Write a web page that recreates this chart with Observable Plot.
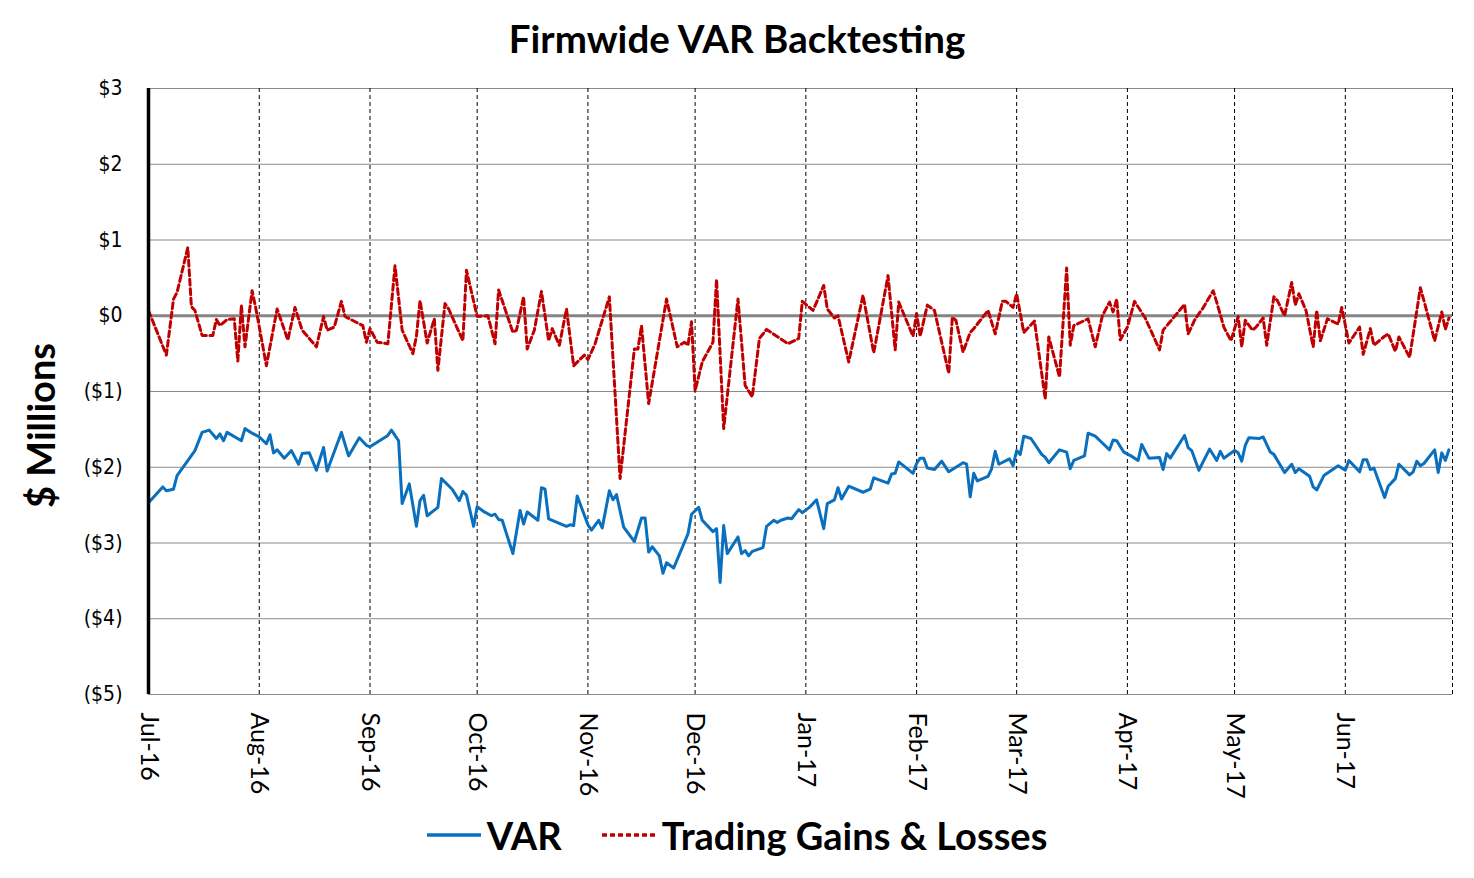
<!DOCTYPE html>
<html>
<head>
<meta charset="utf-8">
<script src="https://cdn.jsdelivr.net/npm/d3@7"></script>
<script src="https://cdn.jsdelivr.net/npm/@observablehq/plot@0.6"></script>
<style>
  html, body { margin: 0; padding: 0; background: #fff; }
  body { width: 1474px; height: 878px; overflow: hidden; font-family: Lato, "Open Sans", sans-serif; }
  #title { height: 70px; line-height: 76px; text-align: center; font-size: 38.5px; font-weight: bold; color: #000; }
  #chart { height: 730px; }
  #legend { height: 70px; display: flex; justify-content: center; align-items: center; font-size: 38px; font-weight: bold; color: #000; padding-left: 0px; }
  #legend .item { display: flex; align-items: center; }
  #legend .item + .item { margin-left: 40px; }
  #legend svg { margin-right: 6px; }
</style>
</head>
<body>
<div id="title">Firmwide VAR Backtesting</div>
<div id="chart"></div>
<div id="legend"></div>
<script>
// ---- data ----
const varDates = ["2016-07-01","2016-07-05","2016-07-06","2016-07-08","2016-07-09","2016-07-11","2016-07-14","2016-07-16","2016-07-18","2016-07-20","2016-07-21","2016-07-22","2016-07-23","2016-07-27","2016-07-28","2016-07-30",
"2016-08-01","2016-08-03","2016-08-04","2016-08-05","2016-08-06","2016-08-08","2016-08-10","2016-08-12","2016-08-13","2016-08-15","2016-08-17","2016-08-19","2016-08-20","2016-08-24","2016-08-26","2016-08-29","2016-08-31",
"2016-09-01","2016-09-03","2016-09-06","2016-09-07","2016-09-09","2016-09-10","2016-09-12","2016-09-14","2016-09-15","2016-09-16","2016-09-17","2016-09-20","2016-09-21","2016-09-24","2016-09-26","2016-09-27","2016-09-28","2016-09-30",
"2016-10-01","2016-10-03","2016-10-05","2016-10-06","2016-10-07","2016-10-08","2016-10-11","2016-10-13","2016-10-14","2016-10-15","2016-10-18","2016-10-19","2016-10-20","2016-10-21","2016-10-24","2016-10-26","2016-10-27","2016-10-28","2016-10-29",
"2016-11-01","2016-11-02","2016-11-04","2016-11-05","2016-11-07","2016-11-08","2016-11-09","2016-11-11","2016-11-14","2016-11-16","2016-11-17","2016-11-18","2016-11-19","2016-11-21","2016-11-22","2016-11-23","2016-11-25","2016-11-29","2016-11-30",
"2016-12-02","2016-12-03","2016-12-06","2016-12-07","2016-12-08","2016-12-09","2016-12-10","2016-12-13","2016-12-14","2016-12-15","2016-12-16","2016-12-17","2016-12-20","2016-12-21","2016-12-23","2016-12-24","2016-12-25","2016-12-27","2016-12-28","2016-12-30","2016-12-31",
"2017-01-02","2017-01-04","2017-01-06","2017-01-07","2017-01-09","2017-01-10","2017-01-11","2017-01-13","2017-01-17","2017-01-19","2017-01-20","2017-01-24","2017-01-25","2017-01-26","2017-01-27","2017-01-31",
"2017-02-01","2017-02-02","2017-02-03","2017-02-04","2017-02-06","2017-02-08","2017-02-10","2017-02-14","2017-02-15","2017-02-16","2017-02-17","2017-02-18","2017-02-21","2017-02-22","2017-02-23","2017-02-24","2017-02-27","2017-02-28",
"2017-03-01","2017-03-02","2017-03-03","2017-03-05","2017-03-06","2017-03-08","2017-03-09","2017-03-10","2017-03-13","2017-03-15","2017-03-16","2017-03-17","2017-03-20","2017-03-21","2017-03-23","2017-03-25","2017-03-27","2017-03-28","2017-03-29","2017-03-31",
"2017-04-02","2017-04-04","2017-04-05","2017-04-07","2017-04-10","2017-04-11","2017-04-12","2017-04-13","2017-04-17","2017-04-18","2017-04-19","2017-04-21","2017-04-24","2017-04-26","2017-04-27","2017-04-28",
"2017-05-01","2017-05-02","2017-05-03","2017-05-04","2017-05-05","2017-05-08","2017-05-09","2017-05-11","2017-05-12","2017-05-15","2017-05-17","2017-05-18","2017-05-19","2017-05-22","2017-05-23","2017-05-24","2017-05-26","2017-05-30",
"2017-06-01","2017-06-02","2017-06-05","2017-06-06","2017-06-07","2017-06-08","2017-06-09","2017-06-12","2017-06-13","2017-06-15","2017-06-16","2017-06-19","2017-06-20","2017-06-21","2017-06-22","2017-06-23","2017-06-26","2017-06-27","2017-06-28","2017-06-29","2017-06-30"];
const varValues = [-2.47,-2.26,-2.31,-2.29,-2.11,-1.98,-1.78,-1.54,-1.51,-1.62,-1.56,-1.65,-1.54,-1.65,-1.49,-1.55,
-1.60,-1.69,-1.57,-1.81,-1.77,-1.88,-1.78,-1.96,-1.82,-1.81,-2.04,-1.74,-2.05,-1.54,-1.85,-1.61,-1.71,
-1.73,-1.67,-1.58,-1.51,-1.65,-2.48,-2.22,-2.78,-2.44,-2.37,-2.64,-2.53,-2.15,-2.29,-2.44,-2.32,-2.37,-2.78,
-2.52,-2.59,-2.64,-2.62,-2.69,-2.70,-3.14,-2.57,-2.75,-2.59,-2.70,-2.27,-2.29,-2.68,-2.74,-2.78,-2.76,-2.77,-2.38,
-2.76,-2.83,-2.70,-2.80,-2.31,-2.43,-2.36,-2.79,-2.98,-2.67,-2.67,-3.12,-3.05,-3.17,-3.40,-3.26,-3.33,-2.88,-2.62,
-2.53,-2.70,-2.85,-2.81,-3.52,-2.77,-3.14,-2.92,-3.14,-3.10,-3.17,-3.11,-3.06,-2.78,-2.70,-2.73,-2.70,-2.67,-2.68,-2.56,-2.60,
-2.53,-2.43,-2.81,-2.48,-2.43,-2.27,-2.42,-2.25,-2.33,-2.29,-2.14,-2.21,-2.09,-2.08,-1.93,-2.08,
-1.95,-1.88,-1.88,-2.01,-2.03,-1.92,-2.06,-1.94,-1.96,-2.39,-2.08,-2.18,-2.12,-2.02,-1.79,-1.96,-1.89,-1.98,
-1.78,-1.83,-1.59,-1.62,-1.69,-1.83,-1.87,-1.94,-1.77,-1.80,-2.02,-1.91,-1.85,-1.55,-1.59,-1.68,-1.77,-1.64,-1.65,-1.80,
-1.85,-1.91,-1.70,-1.88,-1.87,-2.03,-1.82,-1.88,-1.58,-1.74,-1.78,-2.04,-1.76,-1.91,-1.79,-1.88,
-1.78,-1.81,-1.92,-1.71,-1.61,-1.62,-1.60,-1.80,-1.83,-2.07,-1.96,-2.07,-2.02,-2.12,-2.26,-2.30,-2.11,-1.98,
-2.04,-1.91,-2.06,-1.90,-1.90,-2.03,-2.01,-2.40,-2.25,-2.15,-1.96,-2.10,-2.06,-1.92,-1.98,-1.95,-1.77,-2.07,-1.81,-1.91,-1.77];

const glDates = ["2016-07-01","2016-07-06","2016-07-08","2016-07-09","2016-07-12","2016-07-13","2016-07-14","2016-07-16","2016-07-19","2016-07-20","2016-07-21","2016-07-23","2016-07-25","2016-07-26","2016-07-27","2016-07-28","2016-07-30","2016-07-31",
"2016-08-03","2016-08-06","2016-08-09","2016-08-11","2016-08-13","2016-08-17","2016-08-19","2016-08-20","2016-08-22","2016-08-24","2016-08-25","2016-08-30","2016-08-31",
"2016-09-01","2016-09-03","2016-09-06","2016-09-08","2016-09-10","2016-09-13","2016-09-14","2016-09-15","2016-09-17","2016-09-19","2016-09-20","2016-09-22","2016-09-23","2016-09-27","2016-09-28",
"2016-10-01","2016-10-04","2016-10-06","2016-10-07","2016-10-11","2016-10-12","2016-10-14","2016-10-15","2016-10-17","2016-10-19","2016-10-21","2016-10-22","2016-10-24","2016-10-26","2016-10-28","2016-10-31",
"2016-11-01","2016-11-03","2016-11-07","2016-11-10","2016-11-14","2016-11-15","2016-11-16","2016-11-18","2016-11-23","2016-11-26","2016-11-28","2016-11-29","2016-11-30",
"2016-12-01","2016-12-03","2016-12-06","2016-12-07","2016-12-09","2016-12-13","2016-12-15","2016-12-17","2016-12-19","2016-12-21","2016-12-27","2016-12-30","2016-12-31",
"2017-01-03","2017-01-06","2017-01-07","2017-01-09","2017-01-10","2017-01-13","2017-01-17","2017-01-20","2017-01-24","2017-01-26","2017-01-27","2017-01-31",
"2017-02-01","2017-02-02","2017-02-04","2017-02-06","2017-02-10","2017-02-11","2017-02-12","2017-02-14","2017-02-16","2017-02-17","2017-02-21","2017-02-23","2017-02-25","2017-02-26","2017-02-28",
"2017-03-01","2017-03-03","2017-03-06","2017-03-09","2017-03-10","2017-03-13","2017-03-15","2017-03-16","2017-03-17","2017-03-21","2017-03-23","2017-03-25","2017-03-27","2017-03-28","2017-03-29","2017-03-30",
"2017-04-01","2017-04-03","2017-04-06","2017-04-10","2017-04-11","2017-04-17","2017-04-18","2017-04-20","2017-04-22","2017-04-25","2017-04-26","2017-04-28","2017-04-30",
"2017-05-02","2017-05-03","2017-05-04","2017-05-06","2017-05-07","2017-05-09","2017-05-10","2017-05-12","2017-05-13","2017-05-15","2017-05-17","2017-05-18","2017-05-19","2017-05-21","2017-05-23","2017-05-24","2017-05-25","2017-05-27","2017-05-30","2017-05-31",
"2017-06-02","2017-06-04","2017-06-05","2017-06-06","2017-06-08","2017-06-09","2017-06-12","2017-06-13","2017-06-15","2017-06-16","2017-06-19","2017-06-22","2017-06-23","2017-06-26","2017-06-28","2017-06-29","2017-06-30"];
const glValues = [0.07,-0.52,0.22,0.31,0.90,0.12,0.07,-0.26,-0.26,-0.05,-0.13,-0.05,-0.04,-0.60,0.14,-0.41,0.33,0.11,
-0.66,0.09,-0.32,0.11,-0.19,-0.41,-0.01,-0.19,-0.15,0.19,-0.01,-0.13,-0.35,
-0.17,-0.35,-0.37,0.66,-0.19,-0.50,-0.27,0.20,-0.36,-0.04,-0.72,0.16,0.09,-0.33,0.60,
-0.01,0.00,-0.37,0.34,-0.22,-0.19,0.25,-0.44,-0.19,0.32,-0.33,-0.17,-0.39,0.09,-0.66,-0.52,
-0.58,-0.37,0.25,-2.15,-0.44,-0.44,-0.13,-1.16,0.22,-0.41,-0.35,-0.39,-0.08,
-0.99,-0.61,-0.35,0.48,-1.49,0.22,-0.92,-1.07,-0.30,-0.18,-0.37,-0.30,0.19,
0.07,0.40,0.09,-0.03,0.00,-0.61,0.27,-0.49,0.53,-0.45,0.18,-0.27,
0.03,-0.27,0.14,0.07,-0.76,-0.02,-0.06,-0.48,-0.22,-0.17,0.07,-0.24,0.19,0.19,0.11,
0.29,-0.22,-0.07,-1.10,-0.28,-0.81,0.63,-0.39,-0.13,-0.04,-0.41,0.00,0.18,0.05,0.22,-0.32,
-0.15,0.19,-0.03,-0.45,-0.19,0.15,-0.24,-0.04,0.09,0.33,0.18,-0.15,-0.33,
-0.01,-0.41,-0.06,-0.19,-0.15,-0.03,-0.39,0.25,0.20,0.00,0.44,0.14,0.29,0.07,-0.41,0.07,-0.33,-0.04,-0.11,0.11,
-0.36,-0.22,-0.15,-0.51,-0.17,-0.39,-0.27,-0.24,-0.47,-0.28,-0.55,0.37,0.20,-0.33,0.05,-0.18,-0.03];

const monthTicks = ["2016-07-01","2016-08-01","2016-09-01","2016-10-01","2016-11-01","2016-12-01","2017-01-01","2017-02-01","2017-03-01","2017-04-01","2017-05-01","2017-06-01"];
const axisEnd = "2017-07-01";
const yTicks = [-5,-4,-3,-2,-1,0,1,2,3];
const seriesNames = ["VAR", "Trading Gains & Losses"];
const seriesColors = ["#0a6fbd", "#c00000"];

// ---- build tables ----
const varData = varDates.map((d, i) => ({date: new Date(d), value: varValues[i]}));
const glData = glDates.map((d, i) => ({date: new Date(d), value: glValues[i]}));
const ticks = monthTicks.map(d => new Date(d));
const gridX = [...ticks.slice(1), new Date(axisEnd)];
const fmtY = d => d < 0 ? `($${-d})` : `$${d}`;
const narrow = "'Liberation Sans Narrow', 'Arial Narrow', 'DejaVu Sans Condensed', Lato, sans-serif";

const chart = Plot.plot({
  width: 1474,
  height: 730,
  marginLeft: 148,
  marginRight: 22,
  marginTop: 18,
  marginBottom: 106,
  style: {fontFamily: "Lato, 'Open Sans', sans-serif", color: "#000", background: "#fff"},
  x: {type: "utc", domain: [ticks[0], new Date(axisEnd)]},
  y: {domain: [-5, 3]},
  marks: [
    Plot.ruleY(yTicks, {stroke: "#8a8a8a", strokeWidth: 1.2}),
    Plot.ruleX(gridX, {stroke: "#000", strokeWidth: 1, strokeDasharray: "4,3"}),
    Plot.ruleY([0], {stroke: "#858585", strokeWidth: 3.2}),
    Plot.line(varData, {x: "date", y: "value", stroke: seriesColors[0], strokeWidth: 3, curve: "linear"}),
    Plot.line(glData, {x: "date", y: "value", stroke: seriesColors[1], strokeWidth: 3, strokeDasharray: "6,3.5", curve: "linear"}),
    Plot.ruleX([ticks[0]], {stroke: "#000", strokeWidth: 3.5}),
    Plot.axisY({ticks: yTicks, tickFormat: fmtY, tickSize: 0, tickPadding: 26, fontSize: 21, fontFamily: narrow, label: null}),
    Plot.axisX({ticks: ticks, tickFormat: d3.utcFormat("%b-%y"), tickSize: 0, tickPadding: 18, tickRotate: 90, fontSize: 25, label: null}),
    Plot.text(["$ Millions"], {frameAnchor: "left", textAnchor: "middle", rotate: -90, dx: -106, dy: 34, fontSize: 38, fontWeight: "bold", fill: "#000"})
  ]
});
document.getElementById("chart").appendChild(chart);

// ---- legend ----
const legend = document.getElementById("legend");
seriesNames.forEach((name, i) => {
  const item = document.createElement("div");
  item.className = "item";
  const dash = i === 1 ? 'stroke-dasharray="5,3"' : '';
  item.innerHTML = `<svg width="54" height="10"><line x1="0" y1="5" x2="54" y2="5" stroke="${seriesColors[i]}" stroke-width="3.5" ${dash}></line></svg><span>${name}</span>`;
  legend.appendChild(item);
});
</script>
</body>
</html>
